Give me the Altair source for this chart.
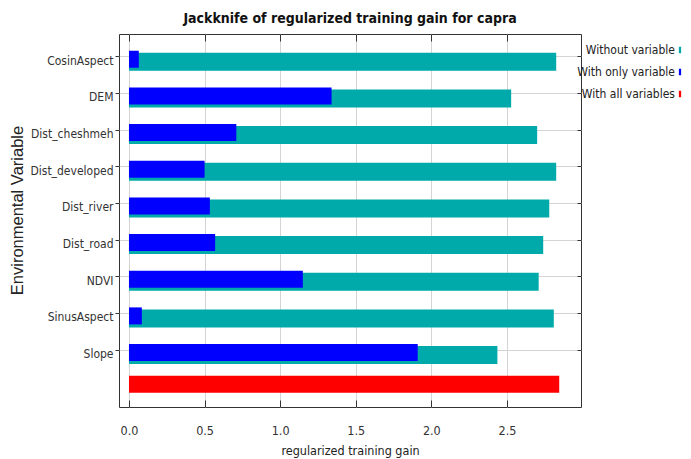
import json
import altair as alt
import pandas as pd

variables = ["CosinAspect", "DEM", "Dist_cheshmeh", "Dist_developed", "Dist_river",
             "Dist_road", "NDVI", "SinusAspect", "Slope"]
without_variable = [2.826, 2.528, 2.70, 2.826, 2.78, 2.74, 2.71, 2.81, 2.437]
with_only_variable = [0.065, 1.34, 0.71, 0.50, 0.535, 0.57, 1.15, 0.085, 1.91]
with_all_variables = 2.846
series_names = ["Without variable", "With only variable", "With all variables"]
series_colors = ["#00AAAA", "#0000FF", "#FF0000"]
x_ticks = [0.0, 0.5, 1.0, 1.5, 2.0, 2.5]

rows = []
for i, v in enumerate(variables):
    rows.append({"row": i, "variable": v, "gain": without_variable[i], "series": series_names[0]})
    rows.append({"row": i, "variable": v, "gain": with_only_variable[i], "series": series_names[1]})
rows.append({"row": len(variables), "variable": "", "gain": with_all_variables, "series": series_names[2]})
df = pd.DataFrame(rows)

FONT = "DejaVu Sans Condensed, sans-serif"
label_expr = json.dumps(variables) + "[datum.value]"

x_scale = alt.Scale(domain=[-0.066, 2.99], nice=False, zero=False)
y_scale = alt.Scale(domain=[-0.47, 9.43], nice=False, zero=False, reverse=True)
color = alt.Color("series:N",
                  scale=alt.Scale(domain=series_names, range=series_colors),
                  legend=alt.Legend(title=None, orient="none", legendX=555, legendY=10,
                                    labelAlign="right", labelOffset={"expr": "-11"},
                                    labelFont=FONT, labelFontSize=12, labelColor="#222",
                                    symbolType="M-0.35,-1H0.35V1H-0.35Z", symbolSize=42,
                                    symbolStrokeWidth=0, rowPadding=10))

x_axis = alt.Axis(values=x_ticks, format=".1f", title="regularized training gain",
                  orient="bottom", offset=-7, tickSize=7, labelPadding=17, domain=False,
                  gridColor="#d4d4d4", tickColor="#333", labelFont=FONT, labelFontSize=12.5,
                  labelColor="#333", titleFont=FONT, titleFontSize=12.5, titleFontWeight="normal",
                  titleColor="#222", titlePadding=8)
y_axis = alt.Axis(values=list(range(len(variables))), labelExpr=label_expr,
                  title="Environmental Variable", orient="left", tickSize=4, labelPadding=2,
                  labelOffset=4,
                  domain=False, gridColor="#d4d4d4", tickColor="#333", labelFont=FONT,
                  labelFontSize=12, labelColor="#333", titleFont="Liberation Sans",
                  titleFontSize=16.5, titleFontWeight="normal", titleColor="#222",
                  titleX=-94, titleY=176, titleAngle=270)

base = alt.Chart(df)

teal = base.transform_filter(alt.datum.series == series_names[0]).mark_bar(
    orient="horizontal", size=18, yOffset=5.5).encode(
    x=alt.X("gain:Q", scale=x_scale, axis=x_axis),
    y=alt.Y("row:Q", scale=y_scale, axis=y_axis),
    color=color)
blue = base.transform_filter(alt.datum.series == series_names[1]).mark_bar(
    orient="horizontal", size=17, yOffset=3).encode(
    x=alt.X("gain:Q", scale=x_scale), y=alt.Y("row:Q", scale=y_scale), color=color)
red = base.transform_filter(alt.datum.series == series_names[2]).mark_bar(
    orient="horizontal", size=17, yOffset=-2).encode(
    x=alt.X("gain:Q", scale=x_scale), y=alt.Y("row:Q", scale=y_scale), color=color)

mirror = base.transform_filter(alt.datum.series == series_names[0]).mark_point(opacity=0).encode(
    x=alt.X("gain:Q", scale=x_scale,
            axis=alt.Axis(values=x_ticks, orient="top", offset=-7, tickSize=7, labels=False,
                          domain=False, grid=False, title=None, tickColor="#333")),
    y=alt.Y("row:Q", scale=y_scale,
            axis=alt.Axis(values=list(range(len(variables))), orient="right", offset=-4,
                          tickSize=4, labels=False, domain=False, grid=False, title=None,
                          tickColor="#333")))

chart = alt.layer(alt.layer(teal, blue, red), mirror).resolve_axis(
    x="independent", y="independent").properties(
    width=462, height=373,
    autosize=alt.AutoSizeParams(type="none"),
    padding={"left": 111, "top": 26, "right": 102, "bottom": 52},
    title=alt.TitleParams("Jackknife of regularized training gain for capra", font=FONT,
                          fontSize=14, fontWeight="bold", color="#111", anchor="middle",
                          offset=8),
).configure_view(stroke="#333", strokeWidth=1)

chart.save("out.html", embed_options={"renderer": "svg", "actions": False})
